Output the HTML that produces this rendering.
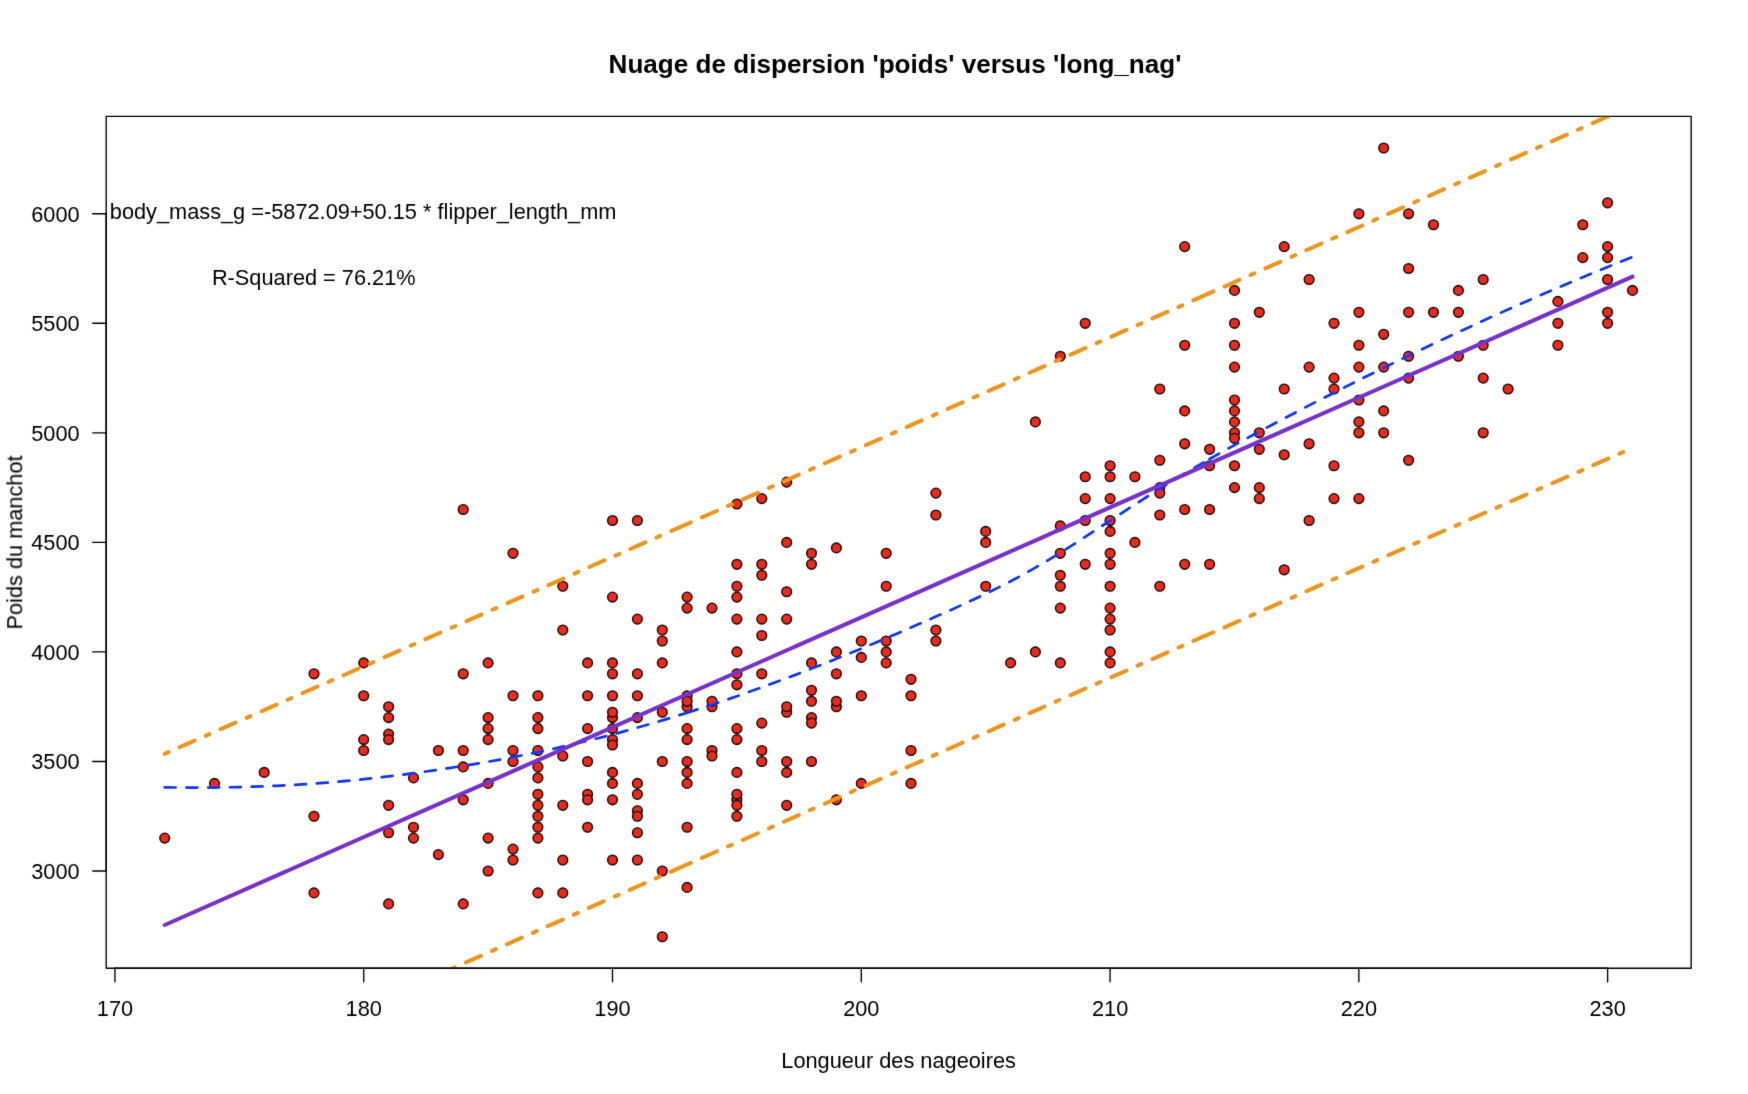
<!DOCTYPE html>
<html><head><meta charset="utf-8"><title>Nuage de dispersion</title>
<style>html,body{margin:0;padding:0;background:#fff}svg{display:block}text{font-family:"Liberation Sans",Arial,Helvetica,sans-serif;fill:#000}</style></head><body>
<svg width="1748" height="1094" viewBox="0 0 1748 1094">
<rect width="1748" height="1094" fill="#fff"/>
<defs><filter id="soft" x="0" y="0" width="1748" height="1094" filterUnits="userSpaceOnUse"><feConvolveMatrix order="3" kernelMatrix="0.0074 0.0713 0.0074 0.0713 0.6852 0.0713 0.0074 0.0713 0.0074" divisor="1" edgeMode="none" preserveAlpha="false"/></filter></defs>
<g filter="url(#soft)">
<defs><clipPath id="c"><rect x="106.2" y="116.3" width="1585.0" height="851.9"/></clipPath></defs>
<g fill="#ec2a1e" stroke="#0a0a0a" stroke-width="1.55">
<circle cx="164.7" cy="838.1" r="4.80"/>
<circle cx="214.5" cy="783.4" r="4.80"/>
<circle cx="264.2" cy="772.4" r="4.80"/>
<circle cx="314.0" cy="816.2" r="4.80"/>
<circle cx="314.0" cy="892.9" r="4.80"/>
<circle cx="314.0" cy="673.8" r="4.80"/>
<circle cx="363.7" cy="750.5" r="4.80"/>
<circle cx="363.7" cy="739.6" r="4.80"/>
<circle cx="363.7" cy="662.9" r="4.80"/>
<circle cx="363.7" cy="695.7" r="4.80"/>
<circle cx="388.6" cy="734.1" r="4.80"/>
<circle cx="388.6" cy="739.6" r="4.80"/>
<circle cx="388.6" cy="805.3" r="4.80"/>
<circle cx="388.6" cy="832.7" r="4.80"/>
<circle cx="388.6" cy="903.9" r="4.80"/>
<circle cx="388.6" cy="706.7" r="4.80"/>
<circle cx="388.6" cy="717.6" r="4.80"/>
<circle cx="413.5" cy="777.9" r="4.80"/>
<circle cx="413.5" cy="827.2" r="4.80"/>
<circle cx="413.5" cy="838.1" r="4.80"/>
<circle cx="438.4" cy="750.5" r="4.80"/>
<circle cx="438.4" cy="854.6" r="4.80"/>
<circle cx="463.2" cy="750.5" r="4.80"/>
<circle cx="463.2" cy="766.9" r="4.80"/>
<circle cx="463.2" cy="799.8" r="4.80"/>
<circle cx="463.2" cy="903.9" r="4.80"/>
<circle cx="463.2" cy="673.8" r="4.80"/>
<circle cx="463.2" cy="509.5" r="4.80"/>
<circle cx="488.1" cy="739.6" r="4.80"/>
<circle cx="488.1" cy="783.4" r="4.80"/>
<circle cx="488.1" cy="838.1" r="4.80"/>
<circle cx="488.1" cy="871.0" r="4.80"/>
<circle cx="488.1" cy="662.9" r="4.80"/>
<circle cx="488.1" cy="717.6" r="4.80"/>
<circle cx="488.1" cy="728.6" r="4.80"/>
<circle cx="513.0" cy="750.5" r="4.80"/>
<circle cx="513.0" cy="761.5" r="4.80"/>
<circle cx="513.0" cy="849.1" r="4.80"/>
<circle cx="513.0" cy="860.0" r="4.80"/>
<circle cx="513.0" cy="553.3" r="4.80"/>
<circle cx="513.0" cy="695.7" r="4.80"/>
<circle cx="537.9" cy="750.5" r="4.80"/>
<circle cx="537.9" cy="766.9" r="4.80"/>
<circle cx="537.9" cy="777.9" r="4.80"/>
<circle cx="537.9" cy="794.3" r="4.80"/>
<circle cx="537.9" cy="805.3" r="4.80"/>
<circle cx="537.9" cy="816.2" r="4.80"/>
<circle cx="537.9" cy="827.2" r="4.80"/>
<circle cx="537.9" cy="838.1" r="4.80"/>
<circle cx="537.9" cy="892.9" r="4.80"/>
<circle cx="537.9" cy="695.7" r="4.80"/>
<circle cx="537.9" cy="717.6" r="4.80"/>
<circle cx="537.9" cy="728.6" r="4.80"/>
<circle cx="562.8" cy="756.0" r="4.80"/>
<circle cx="562.8" cy="805.3" r="4.80"/>
<circle cx="562.8" cy="860.0" r="4.80"/>
<circle cx="562.8" cy="892.9" r="4.80"/>
<circle cx="562.8" cy="586.2" r="4.80"/>
<circle cx="562.8" cy="630.0" r="4.80"/>
<circle cx="587.6" cy="761.5" r="4.80"/>
<circle cx="587.6" cy="794.3" r="4.80"/>
<circle cx="587.6" cy="799.8" r="4.80"/>
<circle cx="587.6" cy="827.2" r="4.80"/>
<circle cx="587.6" cy="662.9" r="4.80"/>
<circle cx="587.6" cy="695.7" r="4.80"/>
<circle cx="587.6" cy="728.6" r="4.80"/>
<circle cx="612.5" cy="739.6" r="4.80"/>
<circle cx="612.5" cy="745.0" r="4.80"/>
<circle cx="612.5" cy="772.4" r="4.80"/>
<circle cx="612.5" cy="783.4" r="4.80"/>
<circle cx="612.5" cy="799.8" r="4.80"/>
<circle cx="612.5" cy="860.0" r="4.80"/>
<circle cx="612.5" cy="597.1" r="4.80"/>
<circle cx="612.5" cy="662.9" r="4.80"/>
<circle cx="612.5" cy="673.8" r="4.80"/>
<circle cx="612.5" cy="695.7" r="4.80"/>
<circle cx="612.5" cy="717.6" r="4.80"/>
<circle cx="612.5" cy="712.2" r="4.80"/>
<circle cx="612.5" cy="728.6" r="4.80"/>
<circle cx="612.5" cy="520.5" r="4.80"/>
<circle cx="637.4" cy="783.4" r="4.80"/>
<circle cx="637.4" cy="794.3" r="4.80"/>
<circle cx="637.4" cy="810.8" r="4.80"/>
<circle cx="637.4" cy="816.2" r="4.80"/>
<circle cx="637.4" cy="832.7" r="4.80"/>
<circle cx="637.4" cy="860.0" r="4.80"/>
<circle cx="637.4" cy="619.1" r="4.80"/>
<circle cx="637.4" cy="673.8" r="4.80"/>
<circle cx="637.4" cy="695.7" r="4.80"/>
<circle cx="637.4" cy="717.6" r="4.80"/>
<circle cx="637.4" cy="520.5" r="4.80"/>
<circle cx="662.3" cy="761.5" r="4.80"/>
<circle cx="662.3" cy="871.0" r="4.80"/>
<circle cx="662.3" cy="936.7" r="4.80"/>
<circle cx="662.3" cy="630.0" r="4.80"/>
<circle cx="662.3" cy="641.0" r="4.80"/>
<circle cx="662.3" cy="662.9" r="4.80"/>
<circle cx="662.3" cy="712.2" r="4.80"/>
<circle cx="687.1" cy="739.6" r="4.80"/>
<circle cx="687.1" cy="761.5" r="4.80"/>
<circle cx="687.1" cy="772.4" r="4.80"/>
<circle cx="687.1" cy="783.4" r="4.80"/>
<circle cx="687.1" cy="827.2" r="4.80"/>
<circle cx="687.1" cy="887.4" r="4.80"/>
<circle cx="687.1" cy="597.1" r="4.80"/>
<circle cx="687.1" cy="608.1" r="4.80"/>
<circle cx="687.1" cy="695.7" r="4.80"/>
<circle cx="687.1" cy="706.7" r="4.80"/>
<circle cx="687.1" cy="701.2" r="4.80"/>
<circle cx="687.1" cy="728.6" r="4.80"/>
<circle cx="712.0" cy="750.5" r="4.80"/>
<circle cx="712.0" cy="756.0" r="4.80"/>
<circle cx="712.0" cy="608.1" r="4.80"/>
<circle cx="712.0" cy="706.7" r="4.80"/>
<circle cx="712.0" cy="701.2" r="4.80"/>
<circle cx="736.9" cy="739.6" r="4.80"/>
<circle cx="736.9" cy="772.4" r="4.80"/>
<circle cx="736.9" cy="799.8" r="4.80"/>
<circle cx="736.9" cy="794.3" r="4.80"/>
<circle cx="736.9" cy="805.3" r="4.80"/>
<circle cx="736.9" cy="816.2" r="4.80"/>
<circle cx="736.9" cy="564.3" r="4.80"/>
<circle cx="736.9" cy="586.2" r="4.80"/>
<circle cx="736.9" cy="597.1" r="4.80"/>
<circle cx="736.9" cy="619.1" r="4.80"/>
<circle cx="736.9" cy="651.9" r="4.80"/>
<circle cx="736.9" cy="673.8" r="4.80"/>
<circle cx="736.9" cy="684.8" r="4.80"/>
<circle cx="736.9" cy="728.6" r="4.80"/>
<circle cx="736.9" cy="504.0" r="4.80"/>
<circle cx="761.8" cy="750.5" r="4.80"/>
<circle cx="761.8" cy="761.5" r="4.80"/>
<circle cx="761.8" cy="564.3" r="4.80"/>
<circle cx="761.8" cy="575.2" r="4.80"/>
<circle cx="761.8" cy="619.1" r="4.80"/>
<circle cx="761.8" cy="635.5" r="4.80"/>
<circle cx="761.8" cy="673.8" r="4.80"/>
<circle cx="761.8" cy="723.1" r="4.80"/>
<circle cx="761.8" cy="498.6" r="4.80"/>
<circle cx="786.7" cy="761.5" r="4.80"/>
<circle cx="786.7" cy="772.4" r="4.80"/>
<circle cx="786.7" cy="805.3" r="4.80"/>
<circle cx="786.7" cy="542.4" r="4.80"/>
<circle cx="786.7" cy="591.7" r="4.80"/>
<circle cx="786.7" cy="619.1" r="4.80"/>
<circle cx="786.7" cy="712.2" r="4.80"/>
<circle cx="786.7" cy="706.7" r="4.80"/>
<circle cx="786.7" cy="482.1" r="4.80"/>
<circle cx="811.5" cy="761.5" r="4.80"/>
<circle cx="811.5" cy="553.3" r="4.80"/>
<circle cx="811.5" cy="564.3" r="4.80"/>
<circle cx="811.5" cy="662.9" r="4.80"/>
<circle cx="811.5" cy="690.3" r="4.80"/>
<circle cx="811.5" cy="701.2" r="4.80"/>
<circle cx="811.5" cy="717.6" r="4.80"/>
<circle cx="811.5" cy="723.1" r="4.80"/>
<circle cx="836.4" cy="799.8" r="4.80"/>
<circle cx="836.4" cy="547.9" r="4.80"/>
<circle cx="836.4" cy="651.9" r="4.80"/>
<circle cx="836.4" cy="673.8" r="4.80"/>
<circle cx="836.4" cy="706.7" r="4.80"/>
<circle cx="836.4" cy="701.2" r="4.80"/>
<circle cx="861.3" cy="641.0" r="4.80"/>
<circle cx="861.3" cy="657.4" r="4.80"/>
<circle cx="861.3" cy="695.7" r="4.80"/>
<circle cx="861.3" cy="783.4" r="4.80"/>
<circle cx="886.2" cy="641.0" r="4.80"/>
<circle cx="886.2" cy="651.9" r="4.80"/>
<circle cx="886.2" cy="662.9" r="4.80"/>
<circle cx="886.2" cy="553.3" r="4.80"/>
<circle cx="886.2" cy="586.2" r="4.80"/>
<circle cx="911.0" cy="679.3" r="4.80"/>
<circle cx="911.0" cy="695.7" r="4.80"/>
<circle cx="911.0" cy="750.5" r="4.80"/>
<circle cx="911.0" cy="783.4" r="4.80"/>
<circle cx="935.9" cy="641.0" r="4.80"/>
<circle cx="935.9" cy="493.1" r="4.80"/>
<circle cx="935.9" cy="515.0" r="4.80"/>
<circle cx="935.9" cy="630.0" r="4.80"/>
<circle cx="985.7" cy="531.4" r="4.80"/>
<circle cx="985.7" cy="542.4" r="4.80"/>
<circle cx="985.7" cy="586.2" r="4.80"/>
<circle cx="1010.6" cy="662.9" r="4.80"/>
<circle cx="1035.4" cy="651.9" r="4.80"/>
<circle cx="1035.4" cy="421.9" r="4.80"/>
<circle cx="1060.3" cy="662.9" r="4.80"/>
<circle cx="1060.3" cy="525.9" r="4.80"/>
<circle cx="1060.3" cy="553.3" r="4.80"/>
<circle cx="1060.3" cy="575.2" r="4.80"/>
<circle cx="1060.3" cy="586.2" r="4.80"/>
<circle cx="1060.3" cy="608.1" r="4.80"/>
<circle cx="1060.3" cy="356.2" r="4.80"/>
<circle cx="1085.2" cy="476.7" r="4.80"/>
<circle cx="1085.2" cy="498.6" r="4.80"/>
<circle cx="1085.2" cy="520.5" r="4.80"/>
<circle cx="1085.2" cy="564.3" r="4.80"/>
<circle cx="1085.2" cy="323.3" r="4.80"/>
<circle cx="1110.1" cy="651.9" r="4.80"/>
<circle cx="1110.1" cy="662.9" r="4.80"/>
<circle cx="1110.1" cy="465.7" r="4.80"/>
<circle cx="1110.1" cy="476.7" r="4.80"/>
<circle cx="1110.1" cy="498.6" r="4.80"/>
<circle cx="1110.1" cy="520.5" r="4.80"/>
<circle cx="1110.1" cy="531.4" r="4.80"/>
<circle cx="1110.1" cy="553.3" r="4.80"/>
<circle cx="1110.1" cy="564.3" r="4.80"/>
<circle cx="1110.1" cy="586.2" r="4.80"/>
<circle cx="1110.1" cy="608.1" r="4.80"/>
<circle cx="1110.1" cy="619.1" r="4.80"/>
<circle cx="1110.1" cy="630.0" r="4.80"/>
<circle cx="1134.9" cy="476.7" r="4.80"/>
<circle cx="1134.9" cy="542.4" r="4.80"/>
<circle cx="1159.8" cy="460.2" r="4.80"/>
<circle cx="1159.8" cy="487.6" r="4.80"/>
<circle cx="1159.8" cy="493.1" r="4.80"/>
<circle cx="1159.8" cy="515.0" r="4.80"/>
<circle cx="1159.8" cy="586.2" r="4.80"/>
<circle cx="1159.8" cy="389.0" r="4.80"/>
<circle cx="1184.7" cy="410.9" r="4.80"/>
<circle cx="1184.7" cy="443.8" r="4.80"/>
<circle cx="1184.7" cy="509.5" r="4.80"/>
<circle cx="1184.7" cy="564.3" r="4.80"/>
<circle cx="1184.7" cy="246.6" r="4.80"/>
<circle cx="1184.7" cy="345.2" r="4.80"/>
<circle cx="1209.6" cy="449.3" r="4.80"/>
<circle cx="1209.6" cy="465.7" r="4.80"/>
<circle cx="1209.6" cy="509.5" r="4.80"/>
<circle cx="1209.6" cy="564.3" r="4.80"/>
<circle cx="1234.5" cy="400.0" r="4.80"/>
<circle cx="1234.5" cy="410.9" r="4.80"/>
<circle cx="1234.5" cy="421.9" r="4.80"/>
<circle cx="1234.5" cy="432.8" r="4.80"/>
<circle cx="1234.5" cy="438.3" r="4.80"/>
<circle cx="1234.5" cy="465.7" r="4.80"/>
<circle cx="1234.5" cy="487.6" r="4.80"/>
<circle cx="1234.5" cy="290.4" r="4.80"/>
<circle cx="1234.5" cy="323.3" r="4.80"/>
<circle cx="1234.5" cy="345.2" r="4.80"/>
<circle cx="1234.5" cy="367.1" r="4.80"/>
<circle cx="1259.3" cy="432.8" r="4.80"/>
<circle cx="1259.3" cy="449.3" r="4.80"/>
<circle cx="1259.3" cy="487.6" r="4.80"/>
<circle cx="1259.3" cy="498.6" r="4.80"/>
<circle cx="1259.3" cy="312.3" r="4.80"/>
<circle cx="1284.2" cy="454.7" r="4.80"/>
<circle cx="1284.2" cy="569.8" r="4.80"/>
<circle cx="1284.2" cy="246.6" r="4.80"/>
<circle cx="1284.2" cy="389.0" r="4.80"/>
<circle cx="1309.1" cy="443.8" r="4.80"/>
<circle cx="1309.1" cy="520.5" r="4.80"/>
<circle cx="1309.1" cy="279.5" r="4.80"/>
<circle cx="1309.1" cy="367.1" r="4.80"/>
<circle cx="1334.0" cy="465.7" r="4.80"/>
<circle cx="1334.0" cy="498.6" r="4.80"/>
<circle cx="1334.0" cy="323.3" r="4.80"/>
<circle cx="1334.0" cy="378.1" r="4.80"/>
<circle cx="1334.0" cy="389.0" r="4.80"/>
<circle cx="1358.9" cy="400.0" r="4.80"/>
<circle cx="1358.9" cy="421.9" r="4.80"/>
<circle cx="1358.9" cy="432.8" r="4.80"/>
<circle cx="1358.9" cy="498.6" r="4.80"/>
<circle cx="1358.9" cy="213.8" r="4.80"/>
<circle cx="1358.9" cy="312.3" r="4.80"/>
<circle cx="1358.9" cy="345.2" r="4.80"/>
<circle cx="1358.9" cy="367.1" r="4.80"/>
<circle cx="1383.7" cy="410.9" r="4.80"/>
<circle cx="1383.7" cy="432.8" r="4.80"/>
<circle cx="1383.7" cy="334.3" r="4.80"/>
<circle cx="1383.7" cy="367.1" r="4.80"/>
<circle cx="1383.7" cy="148.0" r="4.80"/>
<circle cx="1408.6" cy="460.2" r="4.80"/>
<circle cx="1408.6" cy="213.8" r="4.80"/>
<circle cx="1408.6" cy="268.5" r="4.80"/>
<circle cx="1408.6" cy="312.3" r="4.80"/>
<circle cx="1408.6" cy="356.2" r="4.80"/>
<circle cx="1408.6" cy="378.1" r="4.80"/>
<circle cx="1433.5" cy="224.7" r="4.80"/>
<circle cx="1433.5" cy="312.3" r="4.80"/>
<circle cx="1458.4" cy="290.4" r="4.80"/>
<circle cx="1458.4" cy="312.3" r="4.80"/>
<circle cx="1458.4" cy="356.2" r="4.80"/>
<circle cx="1483.2" cy="432.8" r="4.80"/>
<circle cx="1483.2" cy="279.5" r="4.80"/>
<circle cx="1483.2" cy="345.2" r="4.80"/>
<circle cx="1483.2" cy="378.1" r="4.80"/>
<circle cx="1508.1" cy="389.0" r="4.80"/>
<circle cx="1557.9" cy="301.4" r="4.80"/>
<circle cx="1557.9" cy="323.3" r="4.80"/>
<circle cx="1557.9" cy="345.2" r="4.80"/>
<circle cx="1582.8" cy="224.7" r="4.80"/>
<circle cx="1582.8" cy="257.6" r="4.80"/>
<circle cx="1607.6" cy="202.8" r="4.80"/>
<circle cx="1607.6" cy="246.6" r="4.80"/>
<circle cx="1607.6" cy="257.6" r="4.80"/>
<circle cx="1607.6" cy="279.5" r="4.80"/>
<circle cx="1607.6" cy="312.3" r="4.80"/>
<circle cx="1607.6" cy="323.3" r="4.80"/>
<circle cx="1632.5" cy="290.4" r="4.80"/>
</g>
<g clip-path="url(#c)" fill="none" stroke-linecap="round">
<polyline points="164.7,787.4 177.1,787.5 189.6,787.6 202.0,787.6 214.5,787.5 226.9,787.3 239.3,787.1 251.8,786.7 264.2,786.3 276.7,785.8 289.1,785.2 301.5,784.4 314.0,783.6 326.4,782.7 338.9,781.6 351.3,780.5 363.7,779.2 376.2,777.9 388.6,776.4 401.0,774.9 413.5,773.2 425.9,771.5 438.4,769.7 450.8,767.8 463.2,765.8 475.7,763.8 488.1,761.7 500.6,759.5 513.0,757.1 525.4,754.7 537.9,752.2 550.3,749.5 562.8,746.7 575.2,743.8 587.6,740.8 600.1,737.7 612.5,734.5 624.9,731.1 637.4,727.6 649.8,724.1 662.3,720.4 674.7,716.6 687.1,712.7" stroke="#0a35f7" stroke-width="2.72" stroke-dasharray="10.875 10.875" stroke-linejoin="round"/>
<polyline points="687.1,712.7 699.6,708.7 712.0,704.7 724.5,700.5 736.9,696.2 749.3,691.8 761.8,687.4 774.2,682.8 786.7,678.1 799.1,673.4 811.5,668.6 824.0,663.7 836.4,658.7 848.9,653.7 861.3,648.6 873.7,643.4 886.2,638.2 898.6,632.9 911.0,627.5 923.5,622.1 935.9,616.6 948.4,611.1 960.8,605.4 973.2,599.7 985.7,593.8 998.1,587.6 1010.6,581.3 1023.0,574.6 1035.4,567.6 1047.9,560.3 1060.3,552.7 1072.8,544.9 1085.2,536.9 1097.6,528.8 1110.1,520.7 1122.5,512.6 1134.9,504.5 1147.4,496.5 1159.8,488.6 1172.3,481.0 1184.7,473.5 1197.1,466.2 1209.6,459.0" stroke="#0a35f7" stroke-width="2.72" stroke-dasharray="10.875 10.875" stroke-linejoin="round"/>
<polyline points="1209.6,459.0 1222.0,452.0 1234.5,445.1 1246.9,438.3 1259.3,431.6 1271.8,425.0 1284.2,418.4 1296.7,411.9 1309.1,405.4 1321.5,399.0 1334.0,392.7 1346.4,386.4 1358.9,380.1 1371.3,374.0 1383.7,367.8 1396.2,361.7 1408.6,355.7 1421.0,349.7 1433.5,343.8 1445.9,337.9 1458.4,332.1 1470.8,326.4 1483.2,320.7 1495.7,315.0 1508.1,309.5 1520.6,303.9 1533.0,298.5 1545.4,293.1 1557.9,287.7 1570.3,282.4 1582.8,277.2 1595.2,272.1 1607.6,267.0 1620.1,261.9 1632.5,257.0" stroke="#0a35f7" stroke-width="2.72" stroke-dasharray="10.875 10.875" stroke-linejoin="round"/>
<line x1="164.7" y1="925.0" x2="1632.5" y2="276.7" stroke="#7730c8" stroke-width="4.07"/>
<polyline points="164.7,753.8 189.6,742.8 214.5,731.9 239.3,721.0 264.2,710.1 289.1,699.1 314.0,688.2 338.9,677.3 363.7,666.4 388.6,655.4 413.5,644.5 438.4,633.5 463.2,622.6 488.1,611.7 513.0,600.7 537.9,589.8 562.8,578.8 587.6,567.8 612.5,556.9 637.4,545.9 662.3,535.0 687.1,524.0" stroke="#ed951e" stroke-width="4.07" stroke-dasharray="4.07 12.21 16.28 12.21" stroke-linejoin="round"/>
<polyline points="687.1,524.0 712.0,513.0 736.9,502.1 761.8,491.1 786.7,480.1 811.5,469.1 836.4,458.2 861.3,447.2 886.2,436.2 911.0,425.2 935.9,414.2 960.8,403.2 985.7,392.2 1010.6,381.2 1035.4,370.2 1060.3,359.2 1085.2,348.2 1110.1,337.2 1134.9,326.2 1159.8,315.2 1184.7,304.2 1209.6,293.1" stroke="#ed951e" stroke-width="4.07" stroke-dasharray="4.07 12.21 16.28 12.21" stroke-linejoin="round"/>
<polyline points="1209.6,293.1 1234.5,282.1 1259.3,271.1 1284.2,260.1 1309.1,249.0 1334.0,238.0 1358.9,227.0 1383.7,215.9 1408.6,204.9 1433.5,193.9 1458.4,182.8 1483.2,171.8 1508.1,160.7 1533.0,149.7 1557.9,138.6 1582.8,127.6 1607.6,116.5 1632.5,105.4" stroke="#ed951e" stroke-width="4.07" stroke-dasharray="4.07 12.21 16.28 12.21" stroke-linejoin="round"/>
<polyline points="164.7,1096.2 189.6,1085.1 214.5,1074.0 239.3,1063.0 264.2,1051.9 289.1,1040.9 314.0,1029.9 338.9,1018.8 363.7,1007.8 388.6,996.7 413.5,985.7 438.4,974.7 463.2,963.6 488.1,952.6 513.0,941.6 537.9,930.6 562.8,919.5 587.6,908.5 612.5,897.5 637.4,886.5 662.3,875.5 687.1,864.5" stroke="#ed951e" stroke-width="4.07" stroke-dasharray="4.07 12.21 16.28 12.21" stroke-linejoin="round"/>
<polyline points="687.1,864.5 712.0,853.5 736.9,842.5 761.8,831.5 786.7,820.5 811.5,809.5 836.4,798.5 861.3,787.5 886.2,776.5 911.0,765.5 935.9,754.5 960.8,743.5 985.7,732.6 1010.6,721.6 1035.4,710.6 1060.3,699.6 1085.2,688.7 1110.1,677.7 1134.9,666.8 1159.8,655.8 1184.7,644.8 1209.6,633.9" stroke="#ed951e" stroke-width="4.07" stroke-dasharray="4.07 12.21 16.28 12.21" stroke-linejoin="round"/>
<polyline points="1209.6,633.9 1234.5,622.9 1259.3,612.0 1284.2,601.0 1309.1,590.1 1334.0,579.1 1358.9,568.2 1383.7,557.3 1408.6,546.3 1433.5,535.4 1458.4,524.5 1483.2,513.5 1508.1,502.6 1533.0,491.7 1557.9,480.8 1582.8,469.9 1607.6,458.9 1632.5,448.0" stroke="#ed951e" stroke-width="4.07" stroke-dasharray="4.07 12.21 16.28 12.21" stroke-linejoin="round"/>
</g>
<g stroke="#000" stroke-width="1.36" fill="none" stroke-linejoin="round" stroke-linecap="round">
<line x1="114.95" y1="968.20" x2="1607.63" y2="968.20"/>
<line x1="106.20" y1="871.00" x2="106.20" y2="213.76"/>
<rect x="106.20" y="116.35" width="1584.95" height="851.85"/>
<line x1="114.95" y1="968.20" x2="114.95" y2="981.70"/>
<line x1="363.73" y1="968.20" x2="363.73" y2="981.70"/>
<line x1="612.51" y1="968.20" x2="612.51" y2="981.70"/>
<line x1="861.29" y1="968.20" x2="861.29" y2="981.70"/>
<line x1="1110.07" y1="968.20" x2="1110.07" y2="981.70"/>
<line x1="1358.85" y1="968.20" x2="1358.85" y2="981.70"/>
<line x1="1607.63" y1="968.20" x2="1607.63" y2="981.70"/>
<line x1="106.20" y1="871.00" x2="92.70" y2="871.00"/>
<line x1="106.20" y1="761.46" x2="92.70" y2="761.46"/>
<line x1="106.20" y1="651.92" x2="92.70" y2="651.92"/>
<line x1="106.20" y1="542.38" x2="92.70" y2="542.38"/>
<line x1="106.20" y1="432.84" x2="92.70" y2="432.84"/>
<line x1="106.20" y1="323.30" x2="92.70" y2="323.30"/>
<line x1="106.20" y1="213.76" x2="92.70" y2="213.76"/>
</g>
<g font-size="21.75">
<text x="115.0" y="1015.7" text-anchor="middle">170</text>
<text x="363.7" y="1015.7" text-anchor="middle">180</text>
<text x="612.5" y="1015.7" text-anchor="middle">190</text>
<text x="861.3" y="1015.7" text-anchor="middle">200</text>
<text x="1110.1" y="1015.7" text-anchor="middle">210</text>
<text x="1358.9" y="1015.7" text-anchor="middle">220</text>
<text x="1607.6" y="1015.7" text-anchor="middle">230</text>
<text x="79.6" y="878.8" text-anchor="end">3000</text>
<text x="79.6" y="769.3" text-anchor="end">3500</text>
<text x="79.6" y="659.7" text-anchor="end">4000</text>
<text x="79.6" y="550.2" text-anchor="end">4500</text>
<text x="79.6" y="440.6" text-anchor="end">5000</text>
<text x="79.6" y="331.1" text-anchor="end">5500</text>
<text x="79.6" y="221.6" text-anchor="end">6000</text>
<text x="898.6" y="1068.1" text-anchor="middle">Longueur des nageoires</text>
<text transform="translate(22.2,542.5) rotate(-90)" text-anchor="middle">Poids du manchot</text>
<text x="109.8" y="219.4">body_mass_g =-5872.09+50.15 * flipper_length_mm</text>
<text x="211.9" y="285.3">R-Squared = 76.21%</text>
</g>
<text x="895" y="72.7" text-anchor="middle" font-size="26.10" font-weight="bold">Nuage de dispersion 'poids' versus 'long_nag'</text>
</g>
</svg></body></html>
